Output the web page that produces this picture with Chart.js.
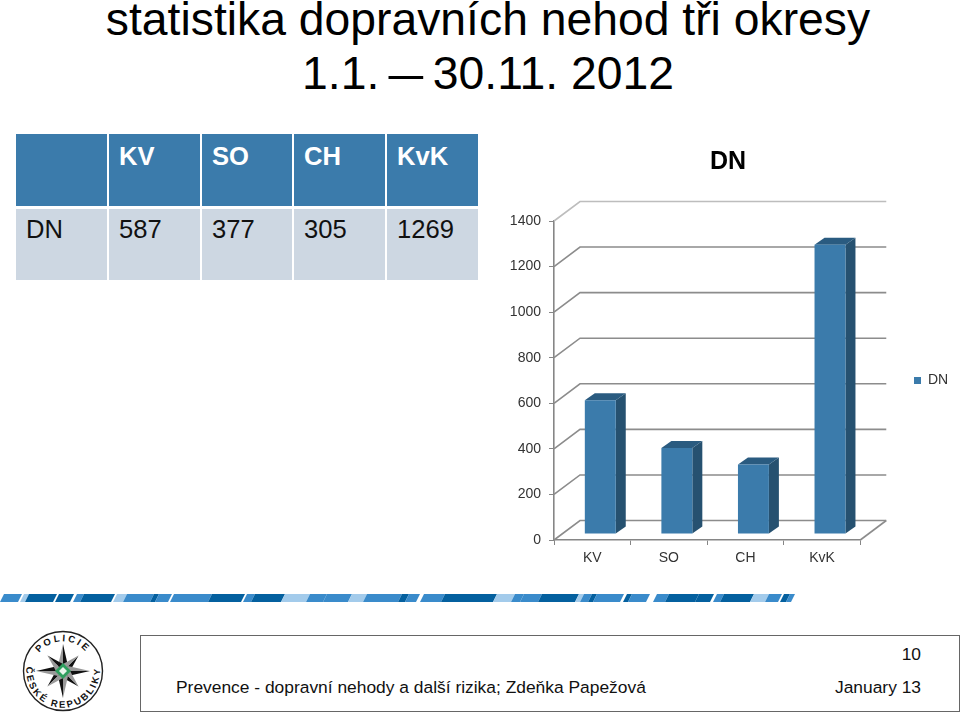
<!DOCTYPE html>
<html lang="cs"><head><meta charset="utf-8">
<script src="https://cdn.jsdelivr.net/npm/chart.js@4"></script>
<style>
html,body{margin:0;padding:0;background:#fff;width:960px;height:712px;overflow:hidden;font-family:"Liberation Sans",Arial,sans-serif;color:#000}
.a{position:absolute;white-space:nowrap}
#t1,#t2{left:0;width:976px;text-align:center;font-size:46.3px;line-height:50px}
#t1{top:-6px}#t2{top:48px}
#dash{display:inline-block;transform:scaleX(1.35);margin:0 1px}
.cell{position:absolute;font-size:25.6px;line-height:30px;box-sizing:border-box;padding-left:10px}
#foot{left:140px;top:635px;width:818px;height:75px;border:1px solid #666}
.ft{font-size:17.4px;line-height:21px;color:#111}
</style></head><body>
<div class="a" id="t1">statistika dopravních nehod tři okresy</div>
<div class="a" id="t2">1.1. <span id="dash">–</span> 30.11. 2012</div>
<div id="table"></div>
<canvas id="c" width="464" height="440" style="position:absolute;left:496px;top:140px"></canvas>
<svg id="stripe" class="a" style="left:0;top:590px" width="800" height="16"></svg>
<svg class="a" style="left:20px;top:628px" width="86" height="86" viewBox="-43 -43 86 86">
<defs><path id="pt" d="M-23.2,18.8 A29.8,29.8 0 1 1 23.2,18.8" fill="none"/><path id="pb" d="M-34.5,-12.5 A36.7,36.7 0 1 0 34.5,-12.5" fill="none"/></defs>
<circle r="39.5" fill="#fff" stroke="#222" stroke-width="1.4"/>
<g id="star"></g>
<path d="M0,-8L8,0L0,8L-8,0Z" fill="#2e9e5e"/><path d="M0,-4L4,0L0,4L-4,0Z" fill="#e8f5ec"/>
<text font-family="Liberation Sans" font-weight="bold" font-size="9.5" fill="#111" letter-spacing="2.4" text-anchor="middle"><textPath href="#pt" startOffset="50%">POLICIE</textPath></text>
<text font-family="Liberation Sans" font-weight="bold" font-size="9.5" fill="#111" letter-spacing="2.2" text-anchor="middle"><textPath href="#pb" startOffset="50%">ČESKÉ REPUBLIKY</textPath></text>
</svg>
<div class="a" id="foot"></div>
<div class="a ft" id="f1" style="left:176px;top:677px">Prevence - dopravní nehody a další rizika; Zdeňka Papežová</div>
<div class="a ft" id="f2" style="right:39px;top:644px">10</div>
<div class="a ft" id="f3" style="right:39px;top:677px">January 13</div>
<script>
const categories = ["KV","SO","CH","KvK"];
const seriesName = "DN";
const values = [587,377,305,1269];
const yTicks = [0,200,400,600,800,1000,1200,1400];
const colFront = "#3b7bab", colSide = "#265170", colTop = "#2a5b80";

/* table, from the same arrays */
const colX=[16,109,202,294,387], colW=[91,91,90,91,91];
const tb=document.getElementById('table');
function cell(x,y,w,h,txt,bg,st){const d=document.createElement('div');d.className='cell';
 d.style.cssText=`left:${x}px;top:${y}px;width:${w}px;height:${h}px;background:${bg};${st||''}`;d.textContent=txt;tb.appendChild(d);}
["",...categories].forEach((t,i)=>cell(colX[i],134,colW[i],72,t,colFront,'color:#fff;font-weight:bold;padding-top:7px;'));
[seriesName,...values].forEach((t,i)=>cell(colX[i],209,colW[i],71,String(t),'#cdd7e2','color:#111;padding-top:5px;'));

/* decorative stripe */
const stripeSegs=[[2,20,'m'],[22,27,'l'],[27,55,'d'],[57,72,'d'],[75,82,'m'],[82,113,'d'],[115,125,'l'],[125,152,'m'],[152,157,'d'],[157,170,'m'],[172,210,'m'],[210,243,'d'],[245,253,'m'],[253,283,'d'],[283,308,'l'],[308,325,'m'],[325,350,'m'],[350,365,'l'],[365,400,'m'],[400,407,'d'],[407,418,'m'],[422,443,'m'],[443,495,'d'],[495,513,'l'],[513,522,'m'],[522,540,'m'],[540,577,'d'],[577,582,'l'],[582,590,'m'],[590,595,'d'],[595,622,'m'],[625,630,'d'],[630,648,'m'],[655,667,'m'],[667,697,'d'],[697,712,'d'],[715,722,'m'],[722,752,'d'],[752,767,'l'],[767,780,'m'],[782,788,'d'],[788,793,'m']];
const sc={d:'#04609f',m:'#3a8bcb',l:'#a3cbeb'};
document.getElementById('stripe').innerHTML=stripeSegs.map(s=>`<polygon fill="${sc[s[2]]}" points="${s[0]+2},4 ${s[1]+2},4 ${s[1]-2},12 ${s[0]-2},12"/>`).join('');

/* logo star */
let st='';for(let i=0;i<8;i++){const r=i%2?22:27;
 st+=`<g transform="rotate(${i*45})"><path d="M0,-${r}L5,-5L0,0Z" fill="#111"/><path d="M0,-${r}L-5,-5L0,0Z" fill="#999"/></g>`;}
document.getElementById('star').innerHTML=st;

/* 3-D look, worked out from the library's scales and bar elements */
const DX=26, DY=-19.5, BX=8, BY=-6, SX=10, SY=-7;
const box3d={id:'box3d',
 afterLayout(chart){const l=chart.legend,a=chart.chartArea; if(l){l.left=362.5;l.right=464;l.top=a.top;l.bottom=a.bottom;}},
 beforeDatasetsDraw(chart){
  const {ctx,chartArea:a,scales:{y}}=chart;ctx.save();ctx.lineWidth=1.6;
  yTicks.forEach(v=>{const p=y.getPixelForValue(v);
    ctx.strokeStyle=v===yTicks[yTicks.length-1]?'#bdbdbd':'#8c8c8c';
    ctx.beginPath();ctx.moveTo(a.left,p);ctx.lineTo(a.left+DX,p+DY);ctx.lineTo(a.right+DX,p+DY);ctx.stroke();});
  const b=y.getPixelForValue(0);ctx.strokeStyle='#8c8c8c';
  ctx.beginPath();ctx.moveTo(a.right,b);ctx.lineTo(a.right+DX,b+DY);ctx.stroke();
  ctx.restore();
  ctx.save();ctx.translate(BX,BY);
  chart.getDatasetMeta(0).data.forEach(el=>{const r=el.x+el.width/2,l=el.x-el.width/2;
    ctx.fillStyle=colSide;ctx.beginPath();ctx.moveTo(r,el.y);ctx.lineTo(r+SX,el.y+SY);ctx.lineTo(r+SX,el.base+SY);ctx.lineTo(r,el.base);ctx.closePath();ctx.fill();
    ctx.fillStyle=colTop;ctx.beginPath();ctx.moveTo(l,el.y);ctx.lineTo(l+SX,el.y+SY);ctx.lineTo(r+SX,el.y+SY);ctx.lineTo(r,el.y);ctx.closePath();ctx.fill();});
 },
 afterDatasetsDraw(chart){chart.ctx.restore();}
};
const lab={color:'#333',font:{family:'"Liberation Sans"',size:14}};
new Chart(document.getElementById('c'),{type:'bar',plugins:[box3d],
 data:{labels:categories,datasets:[{label:seriesName,data:values,backgroundColor:colFront,barPercentage:0.404,categoryPercentage:1}]},
 options:{responsive:false,animation:false,devicePixelRatio:1,
  plugins:{tooltip:{enabled:false},
   title:{display:true,text:seriesName,color:'#000',font:{family:'"Liberation Sans"',size:25,weight:'bold'},padding:{top:7,bottom:44}},
   legend:{display:true,position:'right',labels:{boxWidth:7,boxHeight:7,padding:55.5,...lab}}},
  scales:{
   x:{grid:{drawOnChartArea:false,color:'#868686',tickLength:5},border:{color:'#868686',width:1.6},
      ticks:{...lab,padding:5,maxRotation:0},afterFit(s){s.height=40;}},
   y:{min:0,max:1400,grid:{drawOnChartArea:false,color:'#868686',tickLength:5},border:{color:'#868686',width:1.6},
      ticks:{...lab,stepSize:200,padding:8,callback:v=>String(v)},afterFit(s){s.width=58;}}
  }}});
</script>
</body></html>
